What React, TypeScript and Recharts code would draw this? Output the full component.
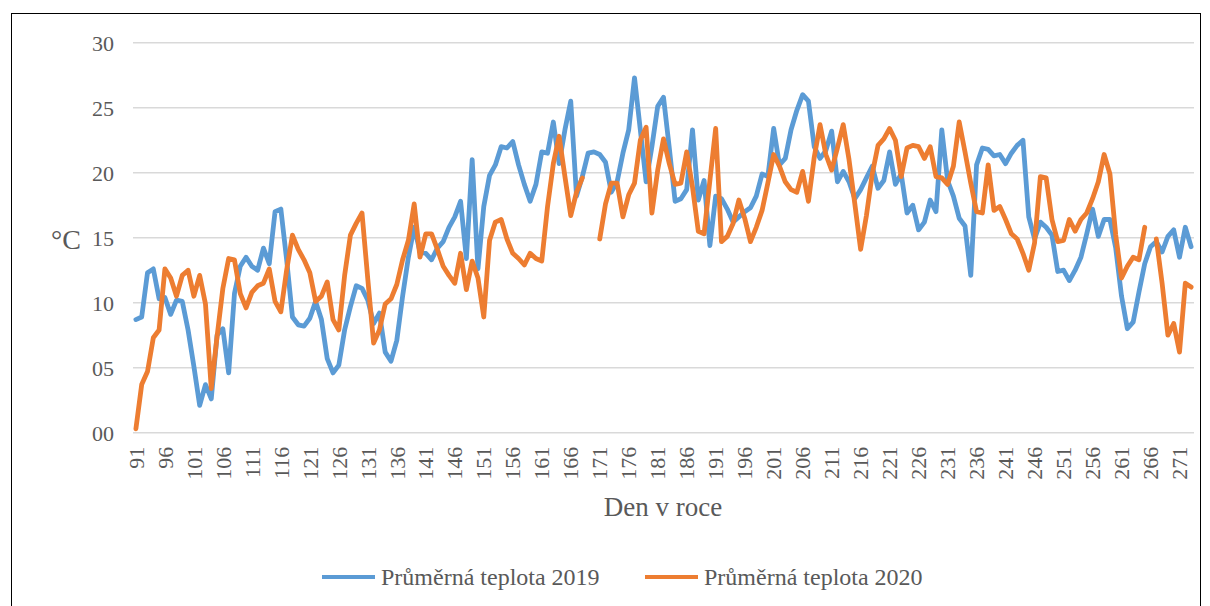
import React from 'react';
import { LineChart, Line, XAxis, YAxis, CartesianGrid } from 'recharts';

const firstDay = 91;

const temp2019: number[] = [
  8.7, 8.9, 12.3, 12.6, 10.3, 10.4, 9.1, 10.2, 10.1, 7.9,
  5.1, 2.1, 3.7, 2.6, 7.5, 8.0, 4.6, 10.7, 12.8, 13.5,
  12.8, 12.5, 14.2, 13.0, 17.0, 17.2, 13.3, 8.9, 8.3, 8.2,
  8.8, 10.1, 8.7, 5.7, 4.6, 5.2, 7.9, 9.7, 11.3, 11.1,
  10.2, 8.4, 9.2, 6.2, 5.5, 7.1, 10.5, 13.5, 15.8, 13.9,
  13.8, 13.3, 14.2, 14.7, 15.8, 16.6, 17.8, 13.4, 21.0, 12.6,
  17.4, 19.8, 20.6, 22.0, 21.9, 22.4, 20.6, 19.1, 17.8, 19.1,
  21.6, 21.5, 23.9, 20.7, 23.3, 25.5, 18.2, 19.7, 21.5, 21.6,
  21.4, 20.8, 18.5, 19.3, 21.5, 23.3, 27.3, 23.3, 19.3, 22.0,
  25.1, 25.8, 21.9, 17.8, 18.0, 18.7, 23.3, 17.9, 19.4, 14.4,
  18.2, 18.0, 17.2, 16.2, 16.6, 17.0, 17.3, 18.2, 19.9, 19.7,
  23.4, 20.6, 21.1, 23.3, 24.8, 26.0, 25.5, 22.0, 21.1, 21.7,
  23.2, 19.3, 20.1, 19.3, 18.0, 18.7, 19.6, 20.5, 18.8, 19.4,
  21.6, 19.1, 19.9, 16.9, 17.5, 15.6, 16.2, 17.9, 17.0, 23.3,
  19.4, 18.2, 16.5, 15.9, 12.1, 20.6, 21.9, 21.8, 21.3, 21.4,
  20.7, 21.5, 22.1, 22.5, 16.6, 14.9, 16.2, 15.8, 15.2, 12.4,
  12.5, 11.7, 12.5, 13.5, 15.3, 17.2, 15.1, 16.4, 16.4, 14.2,
  10.5, 8.0, 8.5, 10.8, 13.0, 14.3, 14.7, 13.9, 15.1, 15.6,
  13.5, 15.8, 14.3,
];

const temp2020: (number | null)[] = [
  0.3, 3.7, 4.7, 7.3, 7.9, 12.6, 11.9, 10.5, 12.1, 12.5,
  10.5, 12.1, 9.9, 3.4, 7.4, 11.1, 13.4, 13.3, 10.7, 9.6,
  10.8, 11.3, 11.5, 12.6, 10.1, 9.3, 12.5, 15.2, 14.1, 13.3,
  12.3, 10.1, 10.5, 11.6, 8.7, 7.9, 12.1, 15.2, 16.1, 16.9,
  11.8, 6.9, 7.9, 9.9, 10.3, 11.4, 13.3, 14.8, 17.6, 13.5,
  15.3, 15.3, 14.1, 12.8, 12.1, 11.5, 13.8, 11.0, 13.2, 11.9,
  8.9, 14.8, 16.2, 16.4, 14.9, 13.8, 13.4, 12.9, 13.8, 13.4,
  13.2, 17.4, 20.7, 22.8, 19.7, 16.7, 18.5, 19.6, null, null,
  14.9, 17.6, 19.2, 19.2, 16.6, 18.3, 19.2, 22.5, 23.5, 16.9,
  20.2, 22.6, 20.7, 19.1, 19.2, 21.6, 18.9, 15.5, 15.3, 19.4,
  23.4, 14.7, 15.1, 16.1, 17.9, 16.5, 14.7, 15.8, 17.1, 19.2,
  21.4, 20.5, 19.3, 18.7, 18.5, 20.1, 17.8, 21.2, 23.7, 21.4,
  20.2, 21.9, 23.7, 21.0, 17.6, 14.1, 16.7, 19.9, 22.1, 22.6,
  23.4, 22.5, 19.7, 21.9, 22.1, 22.0, 21.1, 22.0, 19.7, 19.6,
  19.1, 20.5, 23.9, 21.6, 19.2, 17.0, 16.9, 20.6, 17.1, 17.4,
  16.4, 15.3, 14.9, 13.8, 12.5, 14.6, 19.7, 19.6, 16.4, 14.7,
  14.8, 16.4, 15.5, 16.4, 16.9, 18.0, 19.3, 21.4, 19.9, 15.2,
  11.9, 12.8, 13.5, 13.3, 15.8, null, 14.9, 11.5, 7.5, 8.4,
  6.2, 11.5, 11.2,
];

const yTicks = [0, 5, 10, 15, 20, 25, 30];
const seriesNames = ['Průměrná teplota 2019', 'Průměrná teplota 2020'];
const seriesColors = ['#5B9BD5', '#ED7D31'];
const xTitle = 'Den v roce';
const yTitle = '°C';

const data = temp2019.map((v, i) => ({
  day: String(firstDay + i),
  t2019: v,
  t2020: temp2020[i],
}));

const FONT = '"Liberation Serif", "Times New Roman", serif';
const TEXT = '#595959';

const XTick = (props: any) => {
  const { x, y, payload } = props;
  return (
    <g transform={`translate(${x},${y})`}>
      <text
        transform="rotate(-90)"
        x={-14}
        y={0}
        dy="0.35em"
        textAnchor="end"
        fill={TEXT}
        fontSize={22}
        fontFamily={FONT}
      >
        {payload.value}
      </text>
    </g>
  );
};

export default function App() {
  return (
    <div
      style={{
        position: 'fixed',
        left: 0,
        top: 0,
        width: 1210,
        height: 606,
        overflow: 'hidden',
        background: '#fff',
      }}
    >
      <div
        style={{
          position: 'absolute',
          left: 11,
          top: 13,
          width: 1190,
          height: 700,
          border: '1px solid #000',
          boxSizing: 'border-box',
        }}
      />
      <div style={{ position: 'absolute', left: 0, top: 0 }}>
        <LineChart
          width={1210}
          height={606}
          data={data}
          margin={{ top: 42.7, right: 16, bottom: 113.3, left: 73 }}
        >
          <CartesianGrid
            vertical={false}
            stroke="#d9d9d9"
            strokeWidth={1.5}
          />
          <XAxis
            dataKey="day"
            type="category"
            interval={4}
            height={60}
            tickLine={false}
            axisLine={false}
            tickSize={0}
            tickMargin={0}
            padding={{ left: 2.9, right: 2.9 }}
            tick={<XTick />}
          />
          <YAxis
            domain={[0, 30]}
            ticks={yTicks}
            width={60}
            tickLine={false}
            axisLine={false}
            tickSize={0}
            tickMargin={19}
            tickFormatter={(v: number) => String(v).padStart(2, '0')}
            tick={{ fill: TEXT, fontSize: 22, fontFamily: FONT }}
          />
          <Line
            type="linear"
            dataKey="t2019"
            name={seriesNames[0]}
            stroke={seriesColors[0]}
            strokeWidth={4.8}
            dot={false}
            strokeLinejoin="round"
            strokeLinecap="round"
            isAnimationActive={false}
          />
          <Line
            type="linear"
            dataKey="t2020"
            name={seriesNames[1]}
            stroke={seriesColors[1]}
            strokeWidth={4.8}
            dot={false}
            strokeLinejoin="round"
            strokeLinecap="round"
            isAnimationActive={false}
          />
        </LineChart>
      </div>
      <div
        style={{
          position: 'absolute',
          left: 40,
          top: 223,
          width: 52,
          textAlign: 'center',
          fontSize: 28,
          lineHeight: '34px',
          fontFamily: FONT,
          color: TEXT,
        }}
      >
        {yTitle}
      </div>
      <div
        style={{
          position: 'absolute',
          left: 463,
          width: 400,
          top: 491,
          textAlign: 'center',
          fontFamily: FONT,
          color: TEXT,
          fontSize: 27,
          lineHeight: '32px',
        }}
      >
        {xTitle}
      </div>
      {seriesNames.map((name, i) => (
        <div
          key={name}
          style={{
            position: 'absolute',
            left: i === 0 ? 322 : 645,
            top: 562,
            height: 30,
            display: 'flex',
            alignItems: 'center',
            fontFamily: FONT,
            color: TEXT,
            fontSize: 24,
            whiteSpace: 'nowrap',
          }}
        >
          <span
            style={{
              display: 'inline-block',
              width: 53,
              height: 4.8,
              background: seriesColors[i],
              marginRight: 6,
            }}
          />
          <span>{name}</span>
        </div>
      ))}
    </div>
  );
}
